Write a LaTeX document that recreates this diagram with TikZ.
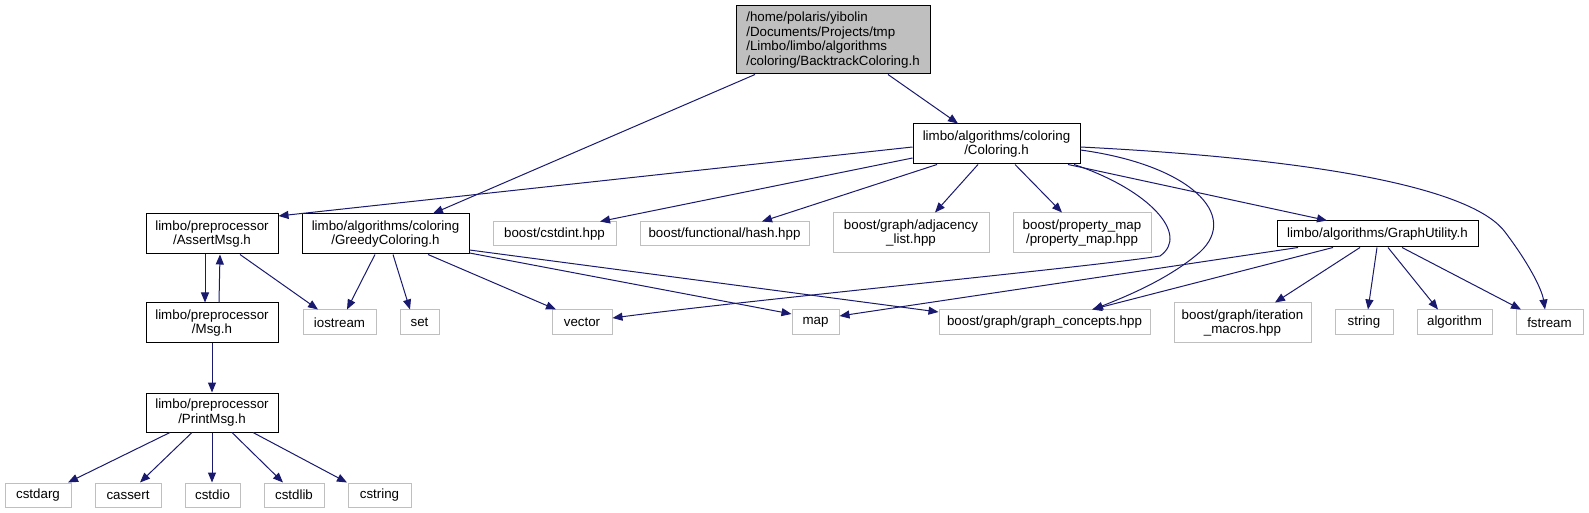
\documentclass[tikz,border=0pt]{standalone}
\usepackage{fontspec}
\setmainfont{Liberation Sans}
\usetikzlibrary{arrows.meta}
\definecolor{edgeblue}{HTML}{191970}
\definecolor{graybd}{HTML}{BFBFBF}
\tikzset{
  basebox/.style={draw, inner sep=0pt, font=\fontsize{10}{11}\selectfont, align=center, line width=0.75pt},
  filebox/.style={basebox, draw=black},
  extbox/.style={basebox, draw=graybd},
  rootbox/.style={basebox, draw=black, fill=graybd, align=left},
  dep/.style={draw=edgeblue, line width=0.75pt, -{Triangle[length=7.5pt,width=6pt]}}
}
\newcommand\mybox[7]{\node[#6, minimum width={(#4-#2)*0.75pt}, minimum height={(#5-#3)*0.75pt}] (#1) at ({(#2+#4)/2},{-(#3+#5)/2}) {#7};}
\begin{document}
\begin{tikzpicture}[x=0.75pt,y=0.75pt]
\useasboundingbox (0,0) rectangle (1589,-513);
% nodes
\mybox{root}{736}{6}{930}{74}{rootbox}{/home/polaris/yibolin\\/Documents/Projects/tmp\\/Limbo/limbo/algorithms\\/coloring/BacktrackColoring.h}
\mybox{col}{913}{124}{1080}{164}{filebox}{limbo/algorithms/coloring\\/Coloring.h}
\mybox{assert}{146}{214}{278}{254}{filebox}{limbo/preprocessor\\/AssertMsg.h}
\mybox{greedy}{302}{214}{469}{254}{filebox}{limbo/algorithms/coloring\\/GreedyColoring.h}
\mybox{cstdint}{493}{222}{616}{246}{extbox}{boost/cstdint.hpp}
\mybox{hash}{640}{222}{809}{246}{extbox}{boost/functional/hash.hpp}
\mybox{adj}{833}{213}{989}{253}{extbox}{boost/graph/adjacency\\\_list.hpp}
\mybox{pmap}{1013}{213}{1151}{253}{extbox}{boost/property\_map\\/property\_map.hpp}
\mybox{gu}{1277}{221}{1478}{247}{filebox}{limbo/algorithms/GraphUtility.h}
\mybox{msg}{146}{303}{278}{343}{filebox}{limbo/preprocessor\\/Msg.h}
\mybox{iostream}{303}{310}{376}{335}{extbox}{iostream}
\mybox{set}{400}{310}{439}{335}{extbox}{set}
\mybox{vector}{552}{310}{612}{335}{extbox}{vector}
\mybox{map}{792}{310}{839}{335}{extbox}{map}
\mybox{gc}{939}{310}{1150}{335}{extbox}{boost/graph/graph\_concepts.hpp}
\mybox{iter}{1174}{303}{1311}{343}{extbox}{boost/graph/iteration\\\_macros.hpp}
\mybox{string}{1335}{310}{1393}{335}{extbox}{string}
\mybox{algorithm}{1417}{310}{1492}{335}{extbox}{algorithm}
\mybox{fstream}{1516}{310}{1583}{335}{extbox}{fstream}
\mybox{print}{146}{393}{278}{432}{filebox}{limbo/preprocessor\\/PrintMsg.h}
\mybox{cstdarg}{5}{483}{71}{507}{extbox}{cstdarg}
\mybox{cassert}{95}{483}{161}{507}{extbox}{cassert}
\mybox{cstdio}{185}{483}{240}{507}{extbox}{cstdio}
\mybox{cstdlib}{264}{483}{324}{507}{extbox}{cstdlib}
\mybox{cstring}{348}{483}{411}{507}{extbox}{cstring}
% edges
\path[dep] (root.south -| 888,0) -- (col.north -| 958,0);
\path[dep] (root.south -| 755,0) -- (greedy.north -| 433,0);
\path[dep] (col.west |- 0,-147) -- (assert.east |- 0,-216);
\path[dep] (col.west |- 0,-158) -- (cstdint.north -| 600,0);
\path[dep] (col.south -| 937,0) -- (hash.north -| 762,0);
\path[dep] (col.south -| 978,0) -- (adj.north -| 935,0);
\path[dep] (col.south -| 1015,0) -- (pmap.north -| 1062,0);
\path[dep] (col.south -| 1074,0) .. controls (1150,-190) and (1190,-235) .. (1160,-256) .. controls (1100,-266) and (750,-300) .. (vector.east |- 0,-318);
\path[dep] (col.east |- 0,-150) .. controls (1190,-165) and (1240,-215) .. (1200,-252) .. controls (1170,-278) and (1130,-295) .. (gc.north -| 1093,0);
\path[dep] (col.south -| 1068,0) -- (gu.north -| 1327,0);
\path[dep] (col.east |- 0,-147) .. controls (1300,-158) and (1470,-185) .. (1505,-232) .. controls (1530,-265) and (1542,-290) .. (fstream.north -| 1545,0);
\path[dep] (greedy.south -| 375,0) -- (iostream.north -| 347,0);
\path[dep] (greedy.south -| 393,0) -- (set.north -| 410,0);
\path[dep] (greedy.south -| 428,0) -- (vector.north -| 556,0);
\path[dep] (greedy.east |- 0,-253) -- (map.west |- 0,-314);
\path[dep] (greedy.east |- 0,-250) -- (gc.west |- 0,-312);
\path[dep] (gu.south -| 1298,0) -- (map.east |- 0,-316);
\path[dep] (gu.south -| 1333,0) -- (gc.north -| 1092,0);
\path[dep] (gu.south -| 1360,0) -- (iter.north -| 1275,0);
\path[dep] (gu.south -| 1377,0) -- (string.north -| 1368,0);
\path[dep] (gu.south -| 1388,0) -- (algorithm.north -| 1438,0);
\path[dep] (gu.south -| 1402,0) -- (fstream.north -| 1521,0);
\path[dep] (assert.south -| 205,0) -- (msg.north -| 205,0);
\path[dep] (msg.north -| 219,0) -- (assert.south -| 220,0);
\path[dep] (assert.south -| 240,0) -- (iostream.north -| 318,0);
\path[dep] (msg.south -| 212,0) -- (print.north -| 212,0);
\path[dep] (print.south -| 170,0) -- (cstdarg.north -| 68,0);
\path[dep] (print.south -| 192,0) -- (cassert.north -| 140,0);
\path[dep] (print.south -| 212,0) -- (cstdio.north -| 212,0);
\path[dep] (print.south -| 232,0) -- (cstdlib.north -| 283,0);
\path[dep] (print.south -| 253,0) -- (cstring.north -| 347,0);
\end{tikzpicture}
\end{document}
